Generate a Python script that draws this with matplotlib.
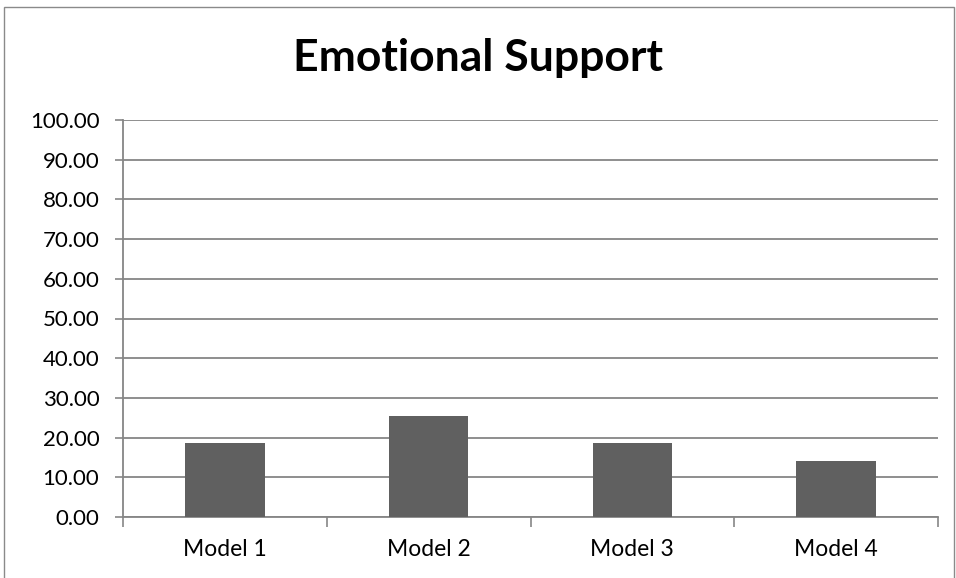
import matplotlib
matplotlib.use("Agg")
import matplotlib.pyplot as plt
from matplotlib.patches import Rectangle
import numpy as np

categories = ["Model 1", "Model 2", "Model 3", "Model 4"]
values = [18.7, 25.5, 18.7, 14.2]
yticks = [0, 10, 20, 30, 40, 50, 60, 70, 80, 90, 100]
title = "Emotional Support"

plt.rcParams['font.family'] = ['Lato', 'DejaVu Sans']

fig = plt.figure(figsize=(9.56, 5.78), dpi=100)
fig.patch.set_facecolor("white")
ax = fig.add_axes([123/956, 1-517/578, (938-123)/956, (517-120)/578])

x = np.arange(len(categories))
ax.bar(x, values, width=0.39, color="#606060", zorder=3)

ax.set_ylim(0, 100)
ax.set_xlim(-0.5, len(categories) - 0.5)
ax.set_yticks(yticks)
ax.set_yticklabels([f"{v:.2f}" for v in yticks], fontsize=16)
ax.yaxis.grid(True, color="#868686", linewidth=1.3, zorder=0)
ax.set_axisbelow(True)

ax.set_xticks(np.arange(-0.5, len(categories) + 0.5, 1.0))
ax.set_xticklabels([])
ax.set_xticks(x, minor=True)
ax.set_xticklabels(categories, minor=True, fontsize=16.5)
ax.tick_params(axis="x", which="major", length=7, color="#868686", width=1.2)
ax.tick_params(axis="x", which="minor", length=0, pad=16)
ax.tick_params(axis="y", length=6, color="#868686", width=1.2, pad=11)

for s in ["top", "right"]:
    ax.spines[s].set_visible(False)
for s in ["left", "bottom"]:
    ax.spines[s].set_color("#868686")
    ax.spines[s].set_linewidth(1.3)

fig.text(0.5, 1 - 58/578, title, ha="center", va="center", fontsize=32, fontweight="bold")

fig.patches.append(Rectangle((4/956, -0.05), (954-4)/956, 1.05 - 7/578,
                             transform=fig.transFigure, fill=False,
                             edgecolor="#8a8a8a", linewidth=1.0))

fig.savefig("out.png", dpi=100)
